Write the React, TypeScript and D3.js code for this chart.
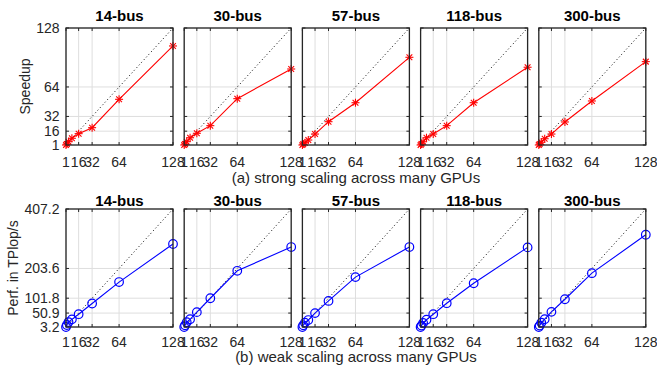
import React from 'react';
import * as d3 from 'd3';

const gpus = [1, 2, 4, 8, 16, 32, 64, 128];
const systems = ['14-bus', '30-bus', '57-bus', '118-bus', '300-bus'];
const xTicks = [1, 16, 32, 64, 128];

// strong scaling: speedup
const speed14 = [1, 2, 4.6, 8.3, 13.3, 19.8, 50.6, 108.5];
const speed30 = [1, 2, 4.6, 8.9, 13.7, 22, 51.3, 83.5];
const speed57 = [1, 2, 3.5, 6.4, 12.9, 26.3, 46.9, 96.2];
const speed118 = [1, 2, 4.5, 8.9, 12.9, 22, 46.9, 85.4];
const speed300 = [1, 2, 4, 7.8, 12.9, 26, 48.8, 91.5];
const speedTicks = [1, 16, 32, 64, 128];

// weak scaling: TFlop/s
const perf14 = [3.2, 10, 20, 29.3, 47, 83.6, 157, 287.3];
const perf30 = [3.2, 9, 19.5, 29.7, 54.1, 101.6, 195.6, 277];
const perf57 = [3.2, 9, 18, 27, 50.7, 92.5, 174, 277];
const perf118 = [3.2, 8, 17, 28, 47, 84.6, 153, 275.8];
const perf300 = [3.2, 8, 18, 30, 55, 98.2, 187.5, 319];
const perfTicks = [3.18, 50.9, 101.8, 203.6, 407.2];
const perfTickLabels = ['3.2', '50.9', '101.8', '203.6', '407.2'];

const speedRows = [speed14, speed30, speed57, speed118, speed300];
const perfRows = [perf14, perf30, perf57, perf118, perf300];

const font = 'Liberation Sans, Arial, Helvetica, sans-serif';
const panelLeft = 66;
const panelStep = 118.2;
const panelW = 107;

type RowProps = {
  top: number;
  bottom: number;
  titleY: number;
  tickY: number;
  captionY: number;
  rows: number[][];
  yDomain: [number, number];
  yTicks: number[];
  yLabels: string[];
  color: string;
  marker: 'star' | 'circle';
  yTitle: string;
  yTitleX: number;
  caption: string;
};

const Star = ({ x, y, c }: { x: number; y: number; c: string }) => {
  const r = 4;
  const d = r * 0.72;
  return (
    <g stroke={c} strokeWidth={1.1}>
      <line x1={x - r} y1={y} x2={x + r} y2={y} />
      <line x1={x} y1={y - r} x2={x} y2={y + r} />
      <line x1={x - d} y1={y - d} x2={x + d} y2={y + d} />
      <line x1={x - d} y1={y + d} x2={x + d} y2={y - d} />
    </g>
  );
};

const Row = (p: RowProps) => {
  const y = d3.scaleLinear().domain(p.yDomain).range([p.bottom, p.top]);
  const tickLen = 3;
  return (
    <g>
      {p.rows.map((vals, i) => {
        const left = panelLeft + i * panelStep;
        const x = d3.scaleLinear().domain([1, 128]).range([left, left + panelW]);
        const line = d3.line<number>().x((_, j) => x(gpus[j])).y(v => y(v));
        const ideal = d3.scaleLinear().domain([1, 128]).range(p.yDomain);
        return (
          <g key={i}>
            <text x={left + panelW / 2} y={p.titleY} textAnchor="middle"
              fontFamily={font} fontSize={15} fontWeight="bold">{systems[i]}</text>
            {xTicks.map(t => (
              <line key={'gx' + t} x1={x(t)} x2={x(t)} y1={p.top} y2={p.bottom} stroke="#dedede" strokeWidth={1} />
            ))}
            {p.yTicks.map(t => (
              <line key={'gy' + t} x1={left} x2={left + panelW} y1={y(t)} y2={y(t)} stroke="#dedede" strokeWidth={1} />
            ))}
            <line x1={x(1)} y1={y(ideal(1))} x2={x(128)} y2={y(ideal(128))}
              stroke="#000" strokeWidth={1} strokeDasharray="1 2.6" />
            {xTicks.map(t => (
              <g key={'tx' + t} stroke="#262626">
                <line x1={x(t)} x2={x(t)} y1={p.bottom} y2={p.bottom - tickLen} />
                <line x1={x(t)} x2={x(t)} y1={p.top} y2={p.top + tickLen} />
              </g>
            ))}
            {p.yTicks.map(t => (
              <g key={'ty' + t} stroke="#262626">
                <line x1={left} x2={left + tickLen} y1={y(t)} y2={y(t)} />
                <line x1={left + panelW} x2={left + panelW - tickLen} y1={y(t)} y2={y(t)} />
              </g>
            ))}
            <path d={line(vals) || ''} fill="none" stroke={p.color} strokeWidth={1.1} />
            {vals.map((v, j) =>
              p.marker === 'star' ? (
                <Star key={j} x={x(gpus[j])} y={y(v)} c={p.color} />
              ) : (
                <circle key={j} cx={x(gpus[j])} cy={y(v)} r={4.3} fill="none" stroke={p.color} strokeWidth={1.2} />
              )
            )}
            <rect x={left} y={p.top} width={panelW} height={p.bottom - p.top}
              fill="none" stroke="#262626" strokeWidth={1.3} />
            {xTicks.map(t => (
              <text key={'lx' + t} x={x(t)} y={p.tickY} textAnchor="middle"
                fontFamily={font} fontSize={14} fill="#262626">{t}</text>
            ))}
            {i === 0 && p.yTicks.map((t, k) => (
              <text key={'ly' + t} x={left - 6.5} y={y(t) + 5} textAnchor="end"
                fontFamily={font} fontSize={14} fill="#262626">{p.yLabels[k]}</text>
            ))}
          </g>
        );
      })}
      <text transform={`translate(${p.yTitleX},${(p.top + p.bottom) / 2}) rotate(-90)`}
        textAnchor="middle" fontFamily={font} fontSize={14} fill="#262626">{p.yTitle}</text>
      <text x={356} y={p.captionY} textAnchor="middle" fontFamily={font}
        fontSize={15} fill="#262626">{p.caption}</text>
    </g>
  );
};

const App = () => {
  return (
    <svg width={657} height={366} style={{ position: 'absolute', left: 0, top: 0, background: '#fff' }}>
      <rect width={657} height={366} fill="#fff" />
      <Row top={28} bottom={145} titleY={21} tickY={166.7} captionY={182.5}
        rows={speedRows} yDomain={[1, 128]} yTicks={speedTicks}
        yLabels={speedTicks.map(String)} color="#ff0000" marker="star"
        yTitle="Speedup" yTitleX={30} caption="(a) strong scaling across many GPUs" />
      <Row top={209} bottom={327} titleY={206} tickY={346.7} captionY={361.7}
        rows={perfRows} yDomain={[3.18, 407.2]} yTicks={perfTicks}
        yLabels={perfTickLabels} color="#0000ff" marker="circle"
        yTitle="Perf. in TPlop/s" yTitleX={18} caption="(b) weak scaling across many GPUs" />
    </svg>
  );
};

export default App;
